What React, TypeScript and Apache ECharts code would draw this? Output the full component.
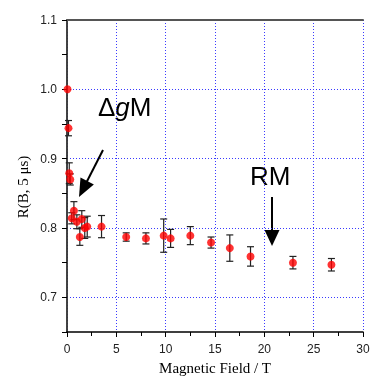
import React, { useEffect, useRef } from "react";
import * as echarts from "echarts";

const fields = [0.05, 0.15, 0.23, 0.33, 0.48, 0.7, 1.0, 1.3, 1.5, 1.8, 2.05, 3.5, 6.0, 8.0, 9.8, 10.5, 12.5, 14.6, 16.5, 18.6, 22.9, 26.8];
const ratios = [1.0, 0.944, 0.879, 0.870, 0.814, 0.825, 0.809, 0.787, 0.813, 0.800, 0.802, 0.802, 0.787, 0.785, 0.789, 0.785, 0.789, 0.779, 0.771, 0.759, 0.750, 0.747];
const errors = [0, 0.011, 0.015, 0.008, 0.008, 0.013, 0.010, 0.012, 0.012, 0.015, 0.015, 0.016, 0.006, 0.008, 0.024, 0.013, 0.013, 0.008, 0.019, 0.014, 0.009, 0.009];

const xTicks = { min: 0, max: 30, interval: 5 };
const yTicks = { min: 0.65, max: 1.1 };
const yLabels = [0.7, 0.8, 0.9, 1.0, 1.1];

const SANS = "Liberation Sans, Arial, sans-serif";
const SERIF = "Liberation Serif, Times New Roman, serif";
const GRID_BLUE = "#3a3aff";

function arrow(x1: number, y1: number, x2: number, y2: number, headLen: number, headHalf: number) {
  const dx = x2 - x1, dy = y2 - y1;
  const L = Math.sqrt(dx * dx + dy * dy);
  const ux = dx / L, uy = dy / L;
  const bx = x2 - ux * headLen, by = y2 - uy * headLen;
  const px = -uy * headHalf, py = ux * headHalf;
  return [
    { type: "line", shape: { x1, y1, x2: bx + ux * 2, y2: by + uy * 2 }, style: { stroke: "#000", lineWidth: 2 } },
    { type: "polygon", shape: { points: [[x2, y2], [bx + px, by + py], [bx - px, by - py]] }, style: { fill: "#000" } },
  ];
}

export default function App() {
  const ref = useRef<HTMLDivElement>(null);
  useEffect(() => {
    if (!ref.current) return;
    const chart = echarts.init(ref.current, null, { renderer: "svg" });
    const pts = fields.map((x, i) => [x, ratios[i]]);
    const errData = fields.map((x, i) => [x, ratios[i] - errors[i], ratios[i] + errors[i]]);
    chart.setOption({
      animation: false,
      grid: { left: 67, top: 20, right: 7, bottom: 46, containLabel: false, outerBoundsMode: "none" },
      xAxis: [
        {
          type: "value",
          min: xTicks.min,
          max: xTicks.max,
          interval: xTicks.interval,
          name: "Magnetic Field / T",
          nameLocation: "middle",
          nameGap: 28,
          nameTextStyle: { fontFamily: SERIF, fontSize: 15, color: "#000" },
          axisLine: { lineStyle: { color: "#000", width: 1.5 } },
          axisTick: { show: true, length: 5, lineStyle: { color: "#000" } },
          minorTick: { show: true, splitNumber: 2, length: 4, lineStyle: { color: "#000" } },
          axisLabel: { fontFamily: SANS, fontSize: 12, color: "#222", margin: 11 },
          splitLine: { show: true, lineStyle: { color: GRID_BLUE, type: [1, 2], width: 1 } },
        },
        {
          type: "value",
          position: "top",
          min: xTicks.min,
          max: xTicks.max,
          axisLine: { show: true, lineStyle: { color: "#555", width: 2 } },
          axisTick: { show: false },
          axisLabel: { show: false },
          splitLine: { show: false },
        },
      ],
      yAxis: [
        {
          type: "value",
          min: yTicks.min,
          max: yTicks.max,
          interval: 0.05,
          axisLine: { show: true, lineStyle: { color: "#000", width: 1.5 } },
          axisTick: { show: true, length: 5, lineStyle: { color: "#000" } },
          axisLabel: {
            fontFamily: SANS,
            fontSize: 12,
            color: "#222",
            margin: 10,
            formatter: (v: number) => {
              const r = Math.round(v * 100) / 100;
              return yLabels.some((l) => Math.abs(l - r) < 1e-6) ? r.toFixed(1) : "";
            },
          },
          splitLine: {
            show: true,
            lineStyle: {
              color: ["transparent", GRID_BLUE, "transparent", GRID_BLUE, "transparent", GRID_BLUE, "transparent", GRID_BLUE, "transparent", "transparent"],
              type: [1, 2],
              width: 1,
            },
          },
        },
        {
          type: "value",
          position: "right",
          min: yTicks.min,
          max: yTicks.max,
          axisLine: { show: true, lineStyle: { color: "#444", width: 1.5 } },
          axisTick: { show: false },
          axisLabel: { show: false },
          splitLine: { show: false },
        },
      ],
      series: [
        {
          type: "custom",
          data: errData,
          z: 3,
          renderItem: (params: any, api: any) => {
            const x = api.value(0);
            const lo = api.coord([x, api.value(1)]);
            const hi = api.coord([x, api.value(2)]);
            if (Math.abs(lo[1] - hi[1]) < 0.5) return { type: "group", children: [] };
            const w = 3.5;
            const st = { stroke: "#222", lineWidth: 1.2 };
            return {
              type: "group",
              children: [
                { type: "line", shape: { x1: lo[0], y1: lo[1], x2: hi[0], y2: hi[1] }, style: st },
                { type: "line", shape: { x1: lo[0] - w, y1: lo[1], x2: lo[0] + w, y2: lo[1] }, style: st },
                { type: "line", shape: { x1: hi[0] - w, y1: hi[1], x2: hi[0] + w, y2: hi[1] }, style: st },
              ],
            };
          },
        },
        {
          type: "scatter",
          data: pts,
          symbol: "circle",
          symbolSize: 8,
          z: 5,
          itemStyle: { color: "#ff0000" },
        },
      ],
      graphic: [
        {
          type: "text",
          x: 23,
          y: 187,
          rotation: Math.PI / 2,
          style: { text: "R(B, 5 μs)", font: `15px ${SERIF}`, fill: "#000", align: "center", verticalAlign: "middle" },
        },
        {
          type: "text",
          x: 98,
          y: 107,
          style: {
            text: "{a|Δ}{b|g}{a|M}",
            align: "left",
            verticalAlign: "middle",
            rich: {
              a: { fontFamily: SANS, fontSize: 26, fill: "#000" },
              b: { fontFamily: SANS, fontSize: 26, fontStyle: "italic", fill: "#000" },
            },
          },
        },
        {
          type: "text",
          x: 250,
          y: 176,
          style: { text: "RM", font: `26px ${SANS}`, fill: "#000", align: "left", verticalAlign: "middle" },
        },
        ...arrow(103, 150, 79, 197, 18, 7.5),
        ...arrow(272, 197, 272, 246, 16, 7.5),
      ],
    });
    return () => chart.dispose();
  }, []);
  return <div ref={ref} style={{ position: "fixed", left: 0, top: 0, width: 370, height: 378 }} />;
}
